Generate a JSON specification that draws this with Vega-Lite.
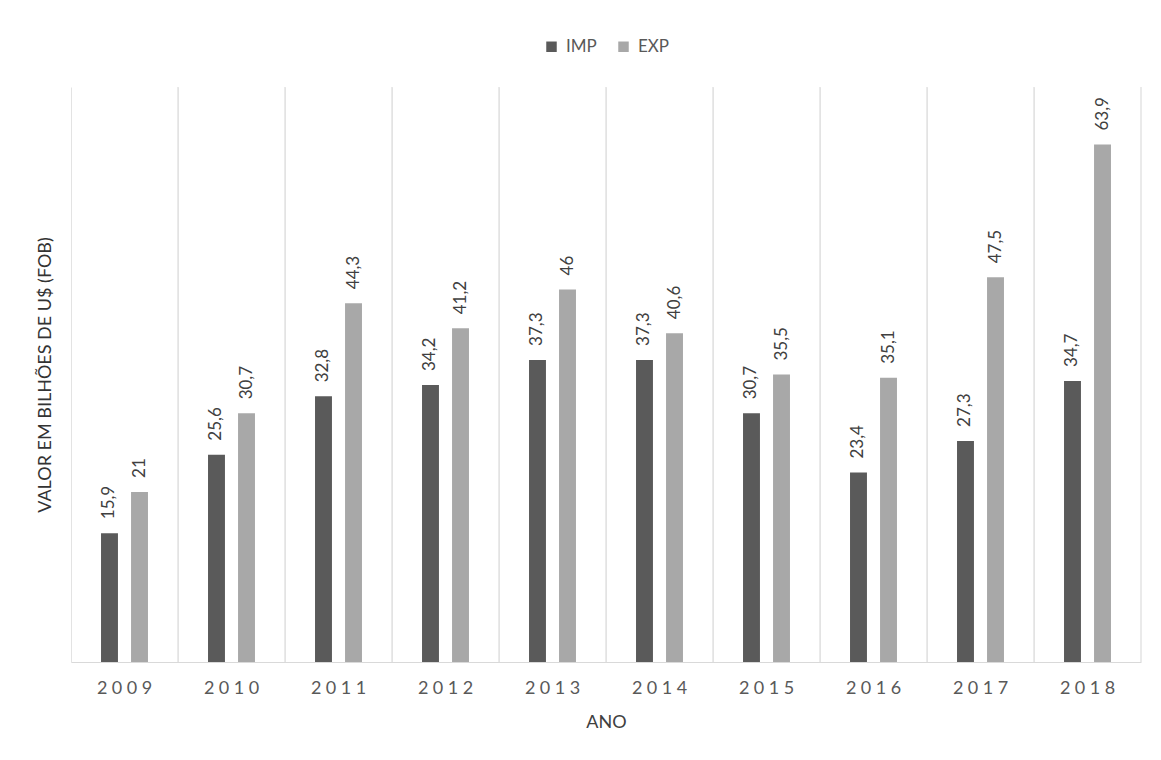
{
  "$schema": "https://vega.github.io/schema/vega-lite/v6.json",
  "width": 1070,
  "height": 575,
  "padding": {"left": 36, "top": 38, "right": 10, "bottom": 10},
  "background": "white",
  "data": {
    "values": [
      {"ano": "2009", "tipo": "IMP", "valor": 15.9},
      {"ano": "2009", "tipo": "EXP", "valor": 21},
      {"ano": "2010", "tipo": "IMP", "valor": 25.6},
      {"ano": "2010", "tipo": "EXP", "valor": 30.7},
      {"ano": "2011", "tipo": "IMP", "valor": 32.8},
      {"ano": "2011", "tipo": "EXP", "valor": 44.3},
      {"ano": "2012", "tipo": "IMP", "valor": 34.2},
      {"ano": "2012", "tipo": "EXP", "valor": 41.2},
      {"ano": "2013", "tipo": "IMP", "valor": 37.3},
      {"ano": "2013", "tipo": "EXP", "valor": 46},
      {"ano": "2014", "tipo": "IMP", "valor": 37.3},
      {"ano": "2014", "tipo": "EXP", "valor": 40.6},
      {"ano": "2015", "tipo": "IMP", "valor": 30.7},
      {"ano": "2015", "tipo": "EXP", "valor": 35.5},
      {"ano": "2016", "tipo": "IMP", "valor": 23.4},
      {"ano": "2016", "tipo": "EXP", "valor": 35.1},
      {"ano": "2017", "tipo": "IMP", "valor": 27.3},
      {"ano": "2017", "tipo": "EXP", "valor": 47.5},
      {"ano": "2018", "tipo": "IMP", "valor": 34.7},
      {"ano": "2018", "tipo": "EXP", "valor": 63.9}
    ]
  },
  "encoding": {
    "x": {
      "field": "ano",
      "type": "ordinal",
      "scale": {"paddingInner": 0, "paddingOuter": 0},
      "axis": {
        "title": "ANO",
        "labelAngle": 0,
        "labelExpr": "join(split(datum.label, ''), '\u2005')",
        "labelFontSize": 18,
        "labelColor": "#595959",
        "labelPadding": 17,
        "titleFontSize": 18,
        "titleFontWeight": "normal",
        "titleColor": "#404040",
        "titlePadding": 16,
        "ticks": false,
        "domainColor": "#d9d9d9",
        "grid": true,
        "gridColor": "#e3e3e3",
        "bandPosition": 0
      }
    }
  },
  "layer": [
    {
      "mark": {"type": "rule", "color": "#e3e3e3", "strokeWidth": 1},
      "encoding": {
        "x": {"field": "ano", "type": "ordinal", "bandPosition": 1}
      }
    },
    {
      "mark": {"type": "bar"},
      "encoding": {
        "xOffset": {
          "field": "tipo",
          "type": "nominal",
          "scale": {"domain": ["IMP", "EXP"], "paddingInner": 0.436, "paddingOuter": 1.158}
        },
        "y": {
          "field": "valor",
          "type": "quantitative",
          "scale": {"domain": [0, 71], "nice": false},
          "axis": {
            "title": "VALOR EM BILHÕES DE U$ (FOB)",
            "labels": false,
            "ticks": false,
            "domain": false,
            "grid": false,
            "titleFontSize": 18,
            "titleFontWeight": "normal",
            "titleColor": "#333333",
            "titlePadding": 17
          }
        },
        "color": {
          "field": "tipo",
          "type": "nominal",
          "scale": {"domain": ["IMP", "EXP"], "range": ["#5a5a5a", "#a8a8a8"]},
          "legend": {
            "title": null,
            "orient": "top",
            "direction": "horizontal",
            "symbolType": "square",
            "symbolSize": 110,
            "symbolStrokeWidth": 0,
            "labelFontSize": 17,
            "labelColor": "#595959",
            "labelOffset": 6,
            "columnPadding": 18,
            "offset": 32
          }
        }
      }
    },
    {
      "mark": {
        "type": "text",
        "angle": 270,
        "align": "left",
        "baseline": "middle",
        "dx": 14,
        "fontSize": 17,
        "color": "#404040"
      },
      "encoding": {
        "xOffset": {
          "field": "tipo",
          "type": "nominal",
          "scale": {"domain": ["IMP", "EXP"], "paddingInner": 0.436, "paddingOuter": 1.158}
        },
        "y": {"field": "valor", "type": "quantitative"},
        "text": {"field": "valor", "type": "quantitative", "format": ".3~g"}
      }
    }
  ],
  "config": {
    "font": "Lato",
    "view": {"stroke": null},
    "legend": {"layout": {"top": {"anchor": "middle"}}},
    "locale": {
      "number": {
        "decimal": ",",
        "thousands": ".",
        "grouping": [3],
        "currency": ["R$", ""]
      }
    }
  }
}
